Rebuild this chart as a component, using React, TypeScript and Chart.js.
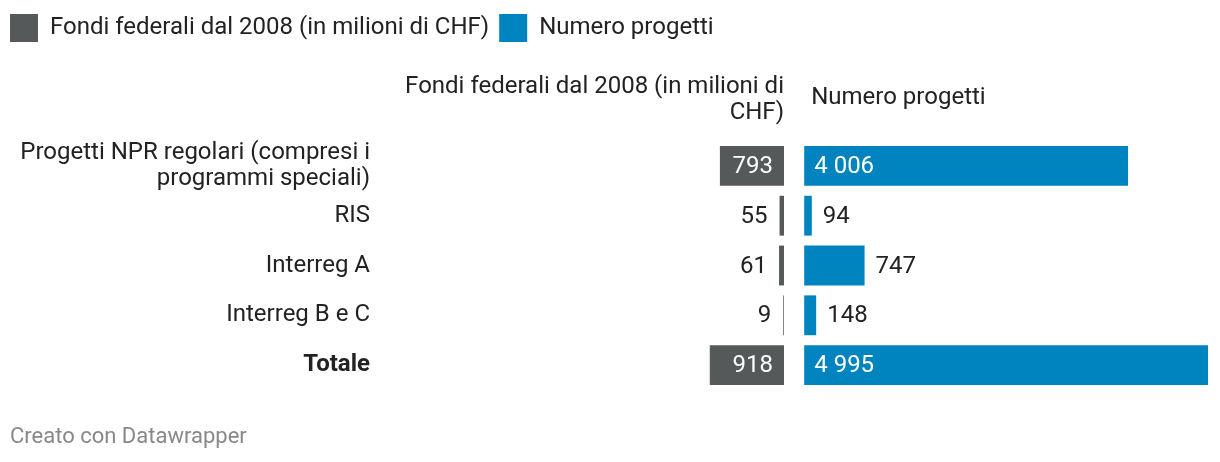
import { useEffect, useRef } from 'react';
import { Chart, registerables } from 'chart.js';

Chart.register(...registerables);

// ---- data ----
const categories: (string | string[])[] = [
  ['Progetti NPR regolari (compresi i', 'programmi speciali)'],
  'RIS',
  'Interreg A',
  'Interreg B e C',
  'Totale',
];
const fondiFederali = [793, 55, 61, 9, 918];
const numeroProgetti = [4006, 94, 747, 148, 4995];
const seriesLabels = ['Fondi federali dal 2008 (in milioni di CHF)', 'Numero progetti'];
const headerFondi = ['Fondi federali dal 2008 (in milioni di', 'CHF)'];
const headerProgetti = ['Numero progetti'];
const footerText = 'Creato con Datawrapper';
const boldCategoryIndex = 4;

// ---- styles ----
const GREY = '#55595a';
const BLUE = '#0084bf';
const TEXT = '#222222';
const FONT = 'Roboto';
const FS = 24;
const INSIDE_RATIO = 0.5;
const GAP_UNITS = 250;
const EMPTY_UNITS = 4030;

const fmt = (v: number) => String(v).replace(/\B(?=(\d{3})+(?!\d))/g, ' ');

const valueLabels = {
  id: 'valueLabels',
  afterDatasetsDraw(chart: any) {
    const ctx = chart.ctx;
    ctx.save();
    ctx.font = `${FS}px ${FONT}`;
    ctx.textBaseline = 'middle';
    chart.data.datasets.forEach((ds: any, di: number) => {
      const meta = chart.getDatasetMeta(di);
      const values = ds.data as number[];
      const maxV = Math.max(...values);
      meta.data.forEach((el: any, i: number) => {
        const v = values[i];
        const { x, y, base } = el.getProps(['x', 'y', 'base'], true);
        const left = Math.min(x, base);
        const right = Math.max(x, base);
        const inside = v / maxV > INSIDE_RATIO;
        const text = fmt(v);
        ctx.fillStyle = inside ? '#ffffff' : TEXT;
        if (di === 0) {
          ctx.textAlign = 'right';
          ctx.fillText(text, inside ? right - 11 : left - 12, y + 1);
        } else {
          ctx.textAlign = 'left';
          ctx.fillText(text, inside ? left + 10 : right + 11, y + 1);
        }
      });
    });
    ctx.restore();
  },
};

const headersAndFooter = {
  id: 'headersAndFooter',
  afterDraw(chart: any) {
    const ctx = chart.ctx;
    const top = chart.chartArea.top;
    const gx = chart.scales.xg.getPixelForValue(0);
    const bx = chart.scales.xb.getPixelForValue(0);
    ctx.save();
    ctx.font = `${FS}px ${FONT}`;
    ctx.fillStyle = TEXT;
    ctx.textBaseline = 'middle';
    ctx.textAlign = 'right';
    headerFondi.forEach((line, i) => ctx.fillText(line, gx, top - 54 + i * 26));
    ctx.textAlign = 'left';
    headerProgetti.forEach((line, i) => ctx.fillText(line, bx + 7, top - 43 + i * 26));
    ctx.font = `22px ${FONT}`;
    ctx.fillStyle = '#888888';
    ctx.fillText(footerText, 10, chart.height - 25);
    ctx.restore();
  },
};

export default function App() {
  const ref = useRef<HTMLCanvasElement | null>(null);

  useEffect(() => {
    if (!ref.current) return;
    const maxG = Math.max(...fondiFederali);
    const maxB = Math.max(...numeroProgetti);
    const chart = new Chart(ref.current, {
      type: 'bar',
      data: {
        labels: categories as any,
        datasets: [
          {
            label: seriesLabels[0],
            data: fondiFederali,
            backgroundColor: GREY,
            borderWidth: 0,
            xAxisID: 'xg',
            grouped: false,
            categoryPercentage: 0.8,
            barPercentage: 1,
          } as any,
          {
            label: seriesLabels[1],
            data: numeroProgetti,
            backgroundColor: BLUE,
            borderWidth: 0,
            xAxisID: 'xb',
            grouped: false,
            categoryPercentage: 0.8,
            barPercentage: 1,
          } as any,
        ],
      },
      options: {
        animation: false,
        responsive: true,
        maintainAspectRatio: false,
        indexAxis: 'y',
        layout: { padding: { top: 4, right: 12, bottom: 72, left: 0 } },
        plugins: {
          legend: {
            display: true,
            position: 'top',
            align: 'start',
            onClick: () => {},
            labels: {
              boxWidth: 28,
              boxHeight: 28,
              padding: 10,
              color: TEXT,
              font: { family: FONT, size: FS },
            },
          },
          tooltip: { enabled: false },
        },
        scales: {
          y: {
            type: 'category',
            grid: { display: false },
            border: { display: false },
            ticks: {
              color: TEXT,
              padding: 6,
              autoSkip: false,
              font: (c: any) => ({
                family: FONT,
                size: FS,
                lineHeight: 26 / FS,
                weight: c.index === boldCategoryIndex ? 'bold' : 'normal',
              }),
            },
            afterFit: (s: any) => {
              s.width = 384;
            },
          },
          xg: {
            type: 'linear',
            position: 'top',
            display: false,
            reverse: true,
            min: -(GAP_UNITS + maxB),
            max: maxG + EMPTY_UNITS,
          },
          xb: {
            type: 'linear',
            position: 'top',
            display: true,
            min: -(maxG + EMPTY_UNITS + GAP_UNITS),
            max: maxB,
            grid: { display: false },
            border: { display: false },
            ticks: { display: false },
            afterFit: (s: any) => {
              s.height = 89;
            },
          },
        } as any,
      },
      plugins: [valueLabels, headersAndFooter],
    });
    return () => chart.destroy();
  }, []);

  return (
    <div style={{ position: 'fixed', left: 0, top: 0, width: 1220, height: 462, background: '#fff' }}>
      <canvas ref={ref} />
    </div>
  );
}
